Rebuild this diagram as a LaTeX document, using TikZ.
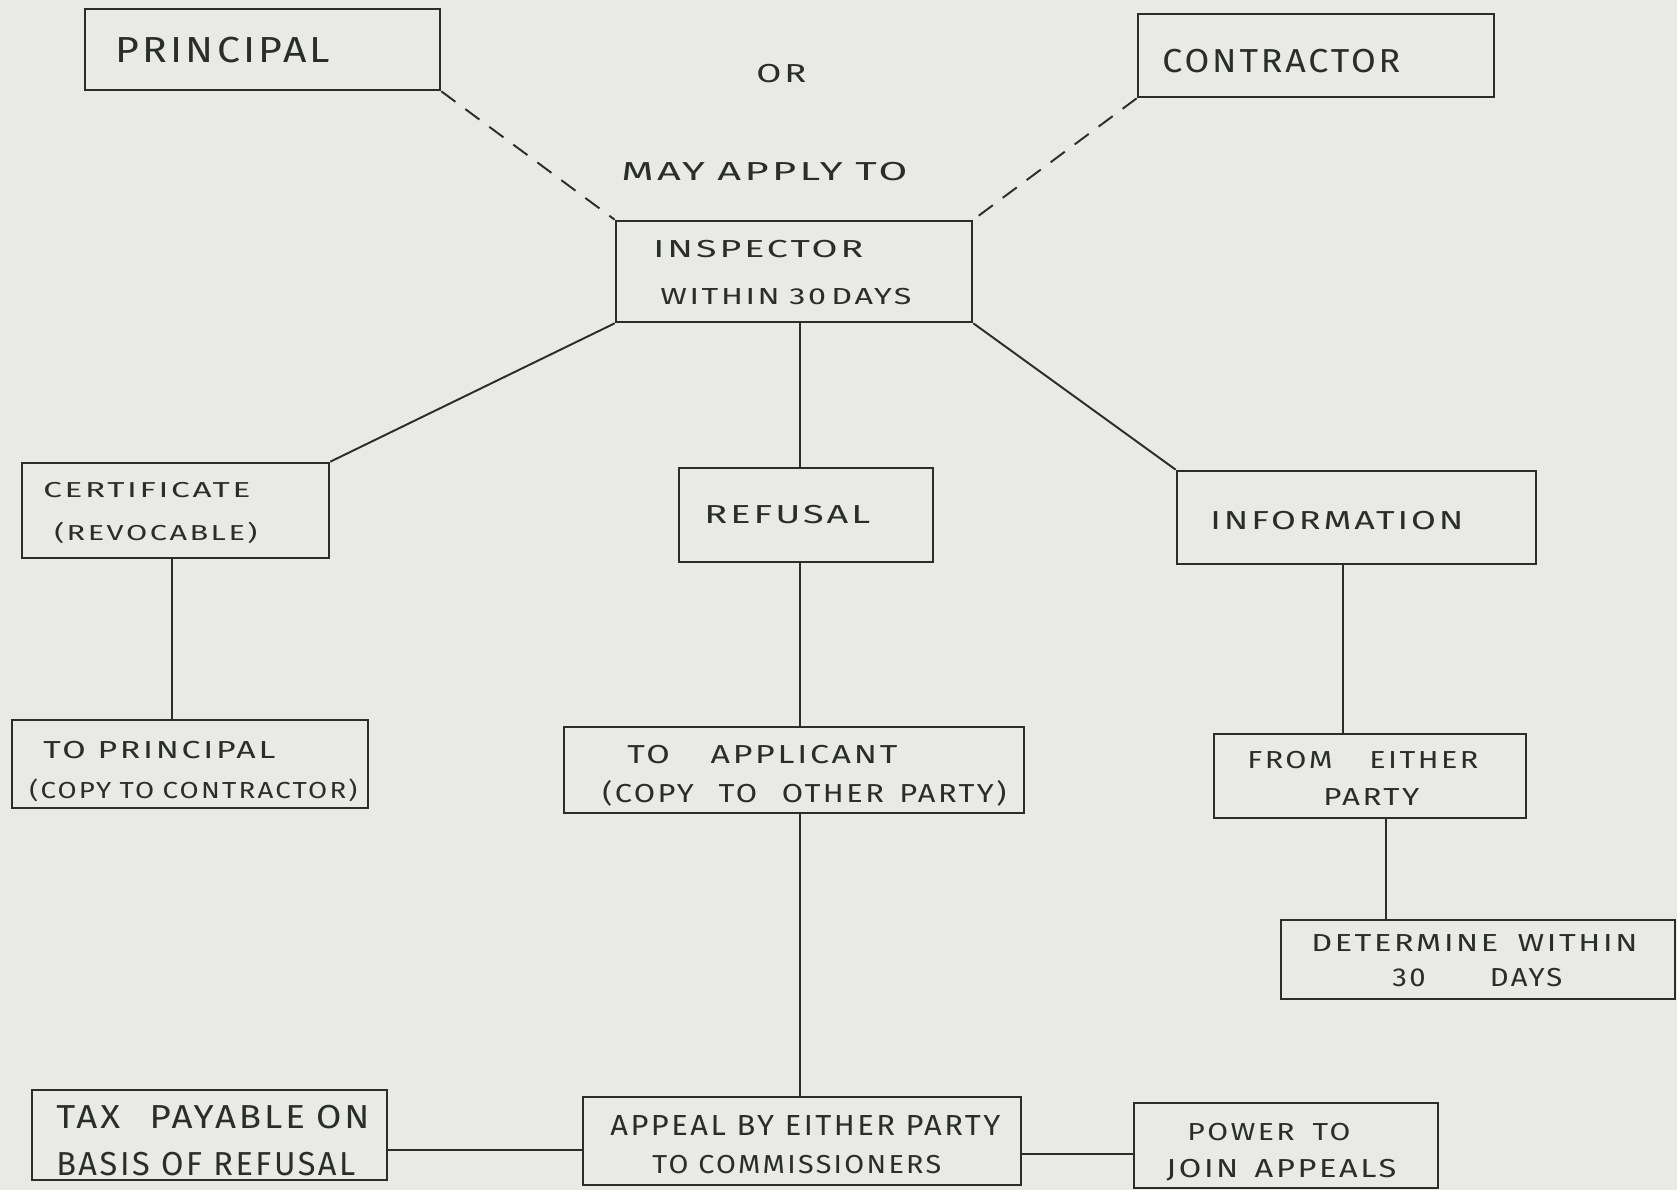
\documentclass[tikz,border=0pt]{standalone}
\usepackage{fontspec}
\usepackage{graphicx}
\usetikzlibrary{fit}
\newfontfamily\hand[LetterSpace=8]{Fira Sans}
\definecolor{ink}{HTML}{2A2E2A}
\definecolor{paper}{HTML}{E9E9E6}
\newcommand\bx[5]{\node[box,fit={(#2,#3) (#4,#5)}] (#1) {};}
\newcommand\tl[6]{\node[txt,font={\hand\fontsize{#4pt}{#4pt}\selectfont}] (#1) at (#2,#3) {\resizebox{\dimexpr0.02cm*#5\relax}{\height}{#6}};}
\begin{document}
\begin{tikzpicture}[x=0.02cm,y=-0.02cm,
  box/.style={draw=ink,line width=1.5pt,inner sep=0pt},
  txt/.style={inner sep=0pt,anchor=base west,text=ink},
  conn/.style={draw=ink,line width=1.1pt},
  dconn/.style={conn,dash pattern=on 10pt off 7pt}]
\fill[paper] (0,0) rectangle (1677,1190);
\useasboundingbox (0,0) rectangle (1677,1190);
% boxes
\bx{principal}{85}{9}{440}{90}
\bx{contractor}{1138}{14}{1494}{97}
\bx{inspector}{616}{221}{972}{322}
\bx{cert}{22}{463}{329}{558}
\bx{refusal}{679}{468}{933}{562}
\bx{info}{1177}{471}{1536}{564}
\bx{toP}{12}{720}{368}{808}
\bx{toA}{564}{727}{1024}{813}
\bx{from}{1214}{734}{1526}{818}
\bx{det}{1281}{920}{1675}{999}
\bx{tax}{32}{1090}{387}{1180}
\bx{appeal}{583}{1097}{1021}{1185}
\bx{power}{1134}{1103}{1438}{1188}
% texts
\tl{tPrincipal}{115}{62}{20.6}{215}{PRINCIPAL}
\tl{tOr}{756}{82}{14.8}{50}{OR}
\tl{tContractor}{1162}{72}{18.9}{238}{CONTRACTOR}
\tl{tMay}{621}{180}{14.8}{286}{MAY\hspace{0.3em}APPLY\hspace{0.3em}TO}
\tl{tInsp1}{653}{257}{14}{210}{INSPECTOR}
\tl{tInsp2}{660}{304}{13.2}{251}{WITHIN\hspace{0.3em}30\,DAYS}
\tl{tCert1}{43}{497}{12.3}{207}{CERTIFICATE}
\tl{tCert2}{54}{540}{12.3}{203}{(REVOCABLE)}
\tl{tToP1}{43}{758}{14}{232}{TO PRINCIPAL}
\tl{tToP2}{29}{798}{13.2}{328}{(COPY\hspace{0.3em}TO\hspace{0.3em}CONTRACTOR)}
\tl{tRef}{704}{523}{14.8}{166}{REFUSAL}
\tl{tToA1}{627}{763}{14.8}{270}{TO\hspace{1.2em}APPLICANT}
\tl{tToA2}{602}{802}{14.8}{404}{(COPY\hspace{0.8em}TO\hspace{0.8em}OTHER\hspace{0.5em}PARTY)}
\tl{tInfo}{1210}{529}{14.8}{253}{INFORMATION}
\tl{tFrom1}{1247}{768}{14}{231}{FROM\hspace{1.2em}EITHER}
\tl{tFrom2}{1323}{805}{14}{96}{PARTY}
\tl{tDet1}{1311}{951}{14}{326}{DETERMINE\hspace{0.6em}WITHIN}
\tl{tDet2}{1392}{986}{14.8}{170}{30\hspace{2.2em}DAYS}
\tl{tTax1}{56}{1128}{18.9}{313}{TAX\hspace{0.8em}PAYABLE\hspace{0.3em}ON}
\tl{tTax2}{56}{1175}{18.9}{299}{BASIS OF REFUSAL}
\tl{tApp1}{610}{1135}{16.5}{390}{APPEAL BY EITHER PARTY}
\tl{tApp2}{652}{1173}{14.8}{289}{TO COMMISSIONERS}
\tl{tPow1}{1187}{1140}{14}{163}{POWER\hspace{0.6em}TO}
\tl{tPow2}{1166}{1177}{14.8}{230}{JOIN\hspace{0.5em}APPEALS}
% helper coordinates
\coordinate (spine) at (800,0);
\coordinate (infoX) at (1343,0);
\coordinate (fromX) at (1386,0);
\coordinate (certX) at (172,0);
\coordinate (ly1) at (0,1150);
\coordinate (ly2) at (0,1154);
% connectors
\draw[dconn] (principal.south east) -- (inspector.north west);
\draw[dconn] (contractor.south west) -- (inspector.north east);
\draw[conn] (inspector.south west) -- (cert.north east);
\draw[conn] (inspector.south east) -- (info.north west);
\draw[conn] (spine |- inspector.south) -- (spine |- refusal.north);
\draw[conn] (spine |- refusal.south) -- (spine |- toA.north);
\draw[conn] (spine |- toA.south) -- (spine |- appeal.north);
\draw[conn] (certX |- cert.south) -- (certX |- toP.north);
\draw[conn] (infoX |- info.south) -- (infoX |- from.north);
\draw[conn] (fromX |- from.south) -- (fromX |- det.north);
\draw[conn] (tax.east |- ly1) -- (appeal.west |- ly1);
\draw[conn] (appeal.east |- ly2) -- (power.west |- ly2);
\end{tikzpicture}
\end{document}
